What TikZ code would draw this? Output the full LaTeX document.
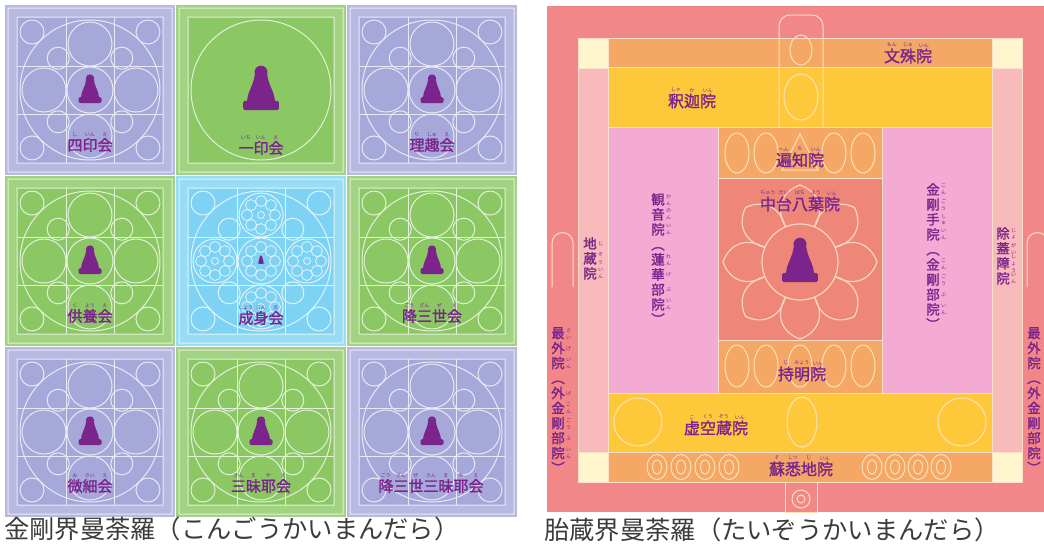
\documentclass[tikz,border=0pt]{standalone}
\usepackage{fontspec}
\setmainfont{Noto Sans CJK JP}
\newfontfamily\futoji{Noto Sans CJK JP}[FakeBold=1.6]
\usetikzlibrary{calc}

\definecolor{lav}{HTML}{A6A8DA}
\definecolor{grn}{HTML}{8BC864}
\definecolor{sky}{HTML}{7ED3F4}
\definecolor{murasaki}{HTML}{7A248C}
\definecolor{rimred}{HTML}{F2878A}
\definecolor{coral}{HTML}{EF8779}
\definecolor{daidai}{HTML}{F5A866}
\definecolor{kiiro}{HTML}{FDC93A}
\definecolor{momo}{HTML}{F3ABD4}
\definecolor{usumomo}{HTML}{F8BABA}
\definecolor{cream}{HTML}{FFF6CE}
\definecolor{kazari}{HTML}{FDE2B8}
\definecolor{hanabira}{HTML}{FAD6C2}
\definecolor{sumi}{HTML}{3C3C3C}

% furigana, one reading per kanji
\newcommand\yokofuri[3]{%
    \foreach \yomi [count=\k] in {#3}
        \node[furi, anchor=south] (#1-f\k) at ($(#1.north west)+({(\k-0.5)*#2},-1)$) {\yomi};}
\newcommand\tatefuri[3]{%
    \foreach \yomi [count=\k] in {#3}
        \node[furi, anchor=west] (#1-f\k) at ($(#1.north east)+(1,{(\k-0.55)*#2})$) {\shortstack{\yomi}};}

\tikzset{
    hall/.style =   {text=murasaki,
                    font=\futoji\fontsize{15}{15}\selectfont,
                    inner sep=0pt},
    bighall/.style = {hall,
                    font=\futoji\fontsize{16}{16}\selectfont},
    tate/.style =   {text=murasaki,
                    font=\futoji\fontsize{13.5}{15}\selectfont,
                    align=center,
                    inner sep=0pt,
                    anchor=north},
    furi/.style =   {text=murasaki,
                    font=\fontsize{5}{5.2}\selectfont,
                    inner sep=0pt},
    caption/.style = {text=sumi,
                    font=\fontsize{25.3}{25.3}\selectfont,
                    inner sep=0pt,
                    anchor=west},
    region/.style = {draw=white!65!daidai,
                    line width=0.8pt},
    ornament/.style = {draw=kazari,
                    line width=1pt},
    butsu/.pic =    {\fill[murasaki] (0,-11.5) circle (4.2);
                    \fill[murasaki] (-4,-10) .. controls (-5,-2) and (-9,1) .. (-9,8)
                        -- (9,8) .. controls (9,1) and (5,-2) .. (4,-10) -- cycle;
                    \fill[murasaki, rounded corners=1.5pt] (-11.5,7) rectangle (11.5,13);}
}

\begin{document}
\begin{tikzpicture}[x=1pt, y=-1pt]
    \useasboundingbox (0,0) rectangle (1044,550);
    \fill[white] (0,0) rectangle (1044,550);

    % Kongokai: nine assemblies
    \foreach \cx/\cy/\kai in {90/90/lav, 261/90/grn, 432/90/lav,
                              90/261/grn, 261/261/sky, 432/261/grn,
                              90/432/lav, 261/432/grn, 432/432/lav}{
        \fill[\kai!80!white] (\cx-85,\cy-85) rectangle (\cx+85,\cy+85);
        \fill[\kai] (\cx-73,\cy-73) rectangle (\cx+73,\cy+73);
        \draw[\kai!25!white, line width=1pt] (\cx-82,\cy-82) rectangle (\cx+82,\cy+82)
            (\cx-73,\cy-73) rectangle (\cx+73,\cy+73) (\cx,\cy) circle (70);
    }
    \foreach \cx/\cy/\kai in {90/90/lav, 432/90/lav, 90/261/grn, 261/261/sky,
                              432/261/grn, 90/432/lav, 261/432/grn, 432/432/lav}{
        \begin{scope}[shift={(\cx,\cy)}, draw=\kai!25!white, line width=1pt]
            \draw (-24,-73) -- (-24,73) (24,-73) -- (24,73)
                  (-73,-24) -- (73,-24) (-73,24) -- (73,24);
            \draw (0,0) circle (23);
            \foreach \a in {0,90,180,270} \draw (\a:46) circle (22);
            \foreach \a in {45,135,225,315} \draw (\a:82) circle (12) (\a:45) circle (11);
        \end{scope}
    }
    \begin{scope}[shift={(261,261)}, draw=sky!25!white, line width=0.8pt]
        \foreach \p in {(0,0),(46,0),(-46,0),(0,46),(0,-46)}
            \foreach \b in {0,45,...,315} \draw \p ++(\b:14) circle (5.5);
        \foreach \p in {(46,0),(-46,0),(0,46),(0,-46)} \draw \p circle (3.5);
    \end{scope}

    \foreach \cx/\cy in {90/90, 432/90, 90/261, 432/261, 90/432, 261/432, 432/432}
        \pic at (\cx,\cy) {butsu};
    \pic[scale=1.55] at (261,90) {butsu};
    \pic[scale=0.3] at (261,260) {butsu};

    \node[hall] (shiin)    at (90,145)  {四印会};
    \node[hall] (ichiin)   at (261,148) {一印会};
    \node[hall] (rishu)    at (432,145) {理趣会};
    \node[hall] (kuyou)    at (90,316)  {供養会};
    \node[hall] (joujin)   at (261,318) {成身会};
    \node[hall] (gouzanze) at (432,316) {降三世会};
    \node[hall] (misai)    at (90,486)  {微細会};
    \node[hall] (sanmaya)  at (261,486) {三昧耶会};
    \node[hall] (gsanmaya) at (431,486) {降三世三昧耶会};
    \yokofuri{shiin}{15}{し,いん,え}
    \yokofuri{ichiin}{15}{いち,いん,え}
    \yokofuri{rishu}{15}{り,しゅ,え}
    \yokofuri{kuyou}{15}{く,よう,え}
    \yokofuri{joujin}{15}{じょう,じん,え}
    \yokofuri{gouzanze}{15}{ごう,ざん,ぜ,え}
    \yokofuri{misai}{15}{み,さい,え}
    \yokofuri{sanmaya}{15}{さん,ま,や,え}
    \yokofuri{gsanmaya}{15}{ごう,ざん,ぜ,さん,ま,や,え}

    % Taizokai: halls
    \fill[rimred] (547,6) rectangle (1044,512);
    \begin{scope}[region]
        \filldraw[fill=daidai]  (608,38)  rectangle (992,67);
        \filldraw[fill=kiiro]   (608,67)  rectangle (992,127);
        \filldraw[fill=usumomo] (578,67)  rectangle (608,452);
        \filldraw[fill=usumomo] (992,67)  rectangle (1022,452);
        \filldraw[fill=momo]    (608,127) rectangle (718,393);
        \filldraw[fill=momo]    (882,127) rectangle (992,393);
        \filldraw[fill=daidai]  (718,127) rectangle (882,178);
        \filldraw[fill=coral]   (718,178) rectangle (882,340);
        \filldraw[fill=daidai]  (718,340) rectangle (882,393);
        \filldraw[fill=kiiro]   (608,393) rectangle (992,452);
        \filldraw[fill=daidai]  (608,452) rectangle (992,482);
        \foreach \x/\y in {578/38, 992/38, 578/452, 992/452}
            \filldraw[fill=cream] (\x,\y) rectangle ++(30,30);
    \end{scope}

    \begin{scope}[ornament]
        \draw[rounded corners=11] (779,127) -- (779,15) -- (823,15) -- (823,127);
        \draw (801,50) ellipse [x radius=11, y radius=15];
        \draw (801,97) ellipse [x radius=17, y radius=23];
        \draw (552,287) -- (552,243) arc [start angle=180, end angle=360, radius=10.5] -- (573,287);
        \draw (1027,287) -- (1027,243) arc [start angle=180, end angle=360, radius=10.5] -- (1048,287);
        \draw (785,482) rectangle (817,512);
        \draw (801,499) circle (9) (801,499) circle (4);
        \foreach \x in {737,766,834,863} \draw (\x,153) ellipse [x radius=12, y radius=20];
        \draw (800,134) -- (782,170) -- (818,170) -- cycle;
        \foreach \x in {737,766,800,834,863} \draw (\x,366) ellipse [x radius=12, y radius=21];
        \draw (638,422) circle (24) (962,422) circle (24);
        \draw (802,422) ellipse [x radius=15, y radius=25];
        \foreach \x in {657,681,705,729,872,895,918,941}
            \draw (\x,467) ellipse [x radius=10, y radius=12.5] (\x,467) ellipse [x radius=4.5, y radius=7];
    \end{scope}

    % eight-petal lotus
    \begin{scope}[shift={(800,262)}, draw=hanabira, line width=1.2pt]
        \draw (0,0) circle (38);
        \foreach \t in {0,45,...,315}
            \draw (\t-22.5:38) .. controls (\t-25:60) and (\t-14:73) .. (\t:77)
                  .. controls (\t+14:73) and (\t+25:60) .. (\t+22.5:38);
    \end{scope}
    \pic[scale=1.55] at (800,262) {butsu};

    \node[bighall] (monju)    at (908,56)  {文殊院};
    \node[bighall] (shaka)    at (692,101) {釈迦院};
    \node[bighall] (henchi)   at (800,160) {遍知院};
    \node[bighall] (chudai)   at (800,204) {中台八葉院};
    \node[bighall] (jimyou)   at (802,374) {持明院};
    \node[bighall] (kokuu)    at (716,428) {虚空蔵院};
    \node[bighall] (soshitsu) at (801,469) {蘇悉地院};
    \yokofuri{monju}{16}{もん,じゅ,いん}
    \yokofuri{shaka}{16}{しゃ,か,いん}
    \yokofuri{henchi}{16}{へん,ち,いん}
    \yokofuri{chudai}{16}{ちゅう,だい,はち,よう,いん}
    \yokofuri{jimyou}{16}{じ,みょう,いん}
    \yokofuri{kokuu}{16}{こ,くう,ぞう,いん}
    \yokofuri{soshitsu}{16}{そ,しつ,じ,いん}

    \node[tate] (kannon) at (658,193)  {観\\音\\院\\︵\\蓮\\華\\部\\院\\︶};
    \node[tate] (kongou) at (933,183)  {金\\剛\\手\\院\\︵\\金\\剛\\部\\院\\︶};
    \node[tate] (jizou)  at (590,237)  {地\\蔵\\院};
    \node[tate] (jogai)  at (1003,227) {除\\蓋\\障\\院};
    \node[tate] (saigeL) at (558,327)  {最\\外\\院\\︵\\外\\金\\剛\\部\\院\\︶};
    \node[tate] (saigeR) at (1034,327) {最\\外\\院\\︵\\外\\金\\剛\\部\\院\\︶};
    \tatefuri{kannon}{15}{か\\ん,の\\ん,い\\ん,,れ\\ん,げ,ぶ,い\\ん}
    \tatefuri{kongou}{15}{こ\\ん,ご\\う,し\\ゅ,い\\ん,,こ\\ん,ご\\う,ぶ,い\\ん}
    \tatefuri{jizou}{15}{じ,ぞ\\う,い\\ん}
    \tatefuri{jogai}{15}{じ\\ょ,が\\い,し\\ょ\\う,い\\ん}
    \tatefuri{saigeL}{15}{さ\\い,げ,い\\ん,,げ,こ\\ん,ご\\う,ぶ,い\\ん}

    \node[caption] (kongoukai) at (4,529)   {金剛界曼荼羅（こんごうかいまんだら）};
    \node[caption] (taizoukai) at (544,530) {胎蔵界曼荼羅（たいぞうかいまんだら）};
\end{tikzpicture}
\end{document}
